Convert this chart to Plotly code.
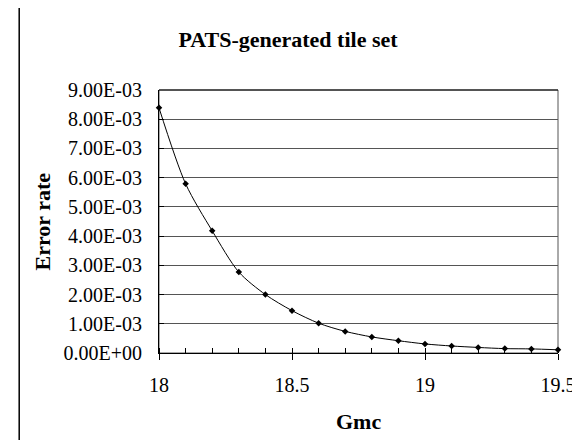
import plotly.graph_objects as go

# Data
gmc = [18.0, 18.1, 18.2, 18.3, 18.4, 18.5, 18.6, 18.7, 18.8, 18.9,
       19.0, 19.1, 19.2, 19.3, 19.4, 19.5]
error_rate = [8.39e-3, 5.79e-3, 4.18e-3, 2.77e-3, 2.00e-3, 1.45e-3, 1.02e-3, 0.74e-3,
              0.55e-3, 0.42e-3, 0.31e-3, 0.24e-3, 0.19e-3, 0.15e-3, 0.14e-3, 0.11e-3]

y_tick_vals = [0, 1e-3, 2e-3, 3e-3, 4e-3, 5e-3, 6e-3, 7e-3, 8e-3, 9e-3]
y_tick_text = ["0.00E+00", "1.00E-03", "2.00E-03", "3.00E-03", "4.00E-03",
               "5.00E-03", "6.00E-03", "7.00E-03", "8.00E-03", "9.00E-03"]
x_tick_vals = [18, 18.5, 19, 19.5]
x_tick_text = ["18", "18.5", "19", "19.5"]

FONT = "Liberation Serif, Times New Roman, serif"

W, H = 580, 440
L, R, T, B = 151, 18, 82, 95
pw, ph = W - L - R, H - T - B


def px_x(p):
    return (p - L) / pw


def px_y(p):
    return (H - B - p) / ph


fig = go.Figure()
fig.add_trace(go.Scatter(
    x=gmc, y=error_rate, mode="lines+markers",
    line=dict(color="black", width=1, shape="spline", smoothing=0.8),
    marker=dict(symbol="diamond", size=5, color="black"),
    showlegend=False, cliponaxis=False,
))

fig.update_layout(
    width=W, height=H,
    margin=dict(l=L, r=R, t=T, b=B),
    paper_bgcolor="white", plot_bgcolor="white",
    font=dict(family=FONT, color="black", size=20),
    title=dict(text="<b>PATS-generated tile set</b>", font=dict(size=22, family=FONT, color="black"),
               x=280 / W, xref="container", xanchor="center",
               y=1 - 31 / H, yref="container", yanchor="middle"),
)

fig.update_xaxes(
    range=[18, 19.5], tickvals=x_tick_vals, ticktext=x_tick_text,
    showline=True, linecolor="black", linewidth=1,
    ticks="outside", ticklen=6, tickcolor="black",
    minor=dict(dtick=0.1, ticks="inside", ticklen=5, tickcolor="black", showgrid=False),
    showgrid=False, zeroline=False, ticklabelstandoff=8,
    tickfont=dict(size=20, family=FONT),
)
fig.update_yaxes(
    range=[0, 0.009], tickvals=y_tick_vals, ticktext=y_tick_text,
    showline=True, linecolor="black", linewidth=1,
    ticks="inside", ticklen=5, tickcolor="black",
    showgrid=True, gridcolor="#555555", gridwidth=1, zeroline=False,
    ticklabelstandoff=12, tickfont=dict(size=20, family=FONT),
)

# plot area border (top/right)
fig.add_shape(type="rect", xref="paper", yref="paper", x0=0, x1=1, y0=0, y1=1,
              line=dict(color="#555555", width=1), layer="below")
fig.add_shape(type="line", xref="paper", yref="paper", x0=0, x1=1, y0=1, y1=1,
              line=dict(color="black", width=1))

# chart outer border (left and bottom visible)
fig.add_shape(type="rect", xref="paper", yref="paper",
              x0=px_x(7), x1=px_x(600), y0=px_y(438), y1=px_y(-20),
              line=dict(color="black", width=1.5))

# axis titles
fig.add_annotation(text="<b>Error rate</b>", xref="paper", yref="paper",
                   x=px_x(30), y=px_y(214), textangle=-90, showarrow=False,
                   font=dict(size=22, family=FONT, color="black"),
                   xanchor="center", yanchor="middle")
fig.add_annotation(text="<b>Gmc</b>", xref="paper", yref="paper",
                   x=px_x(357), y=px_y(413), showarrow=False,
                   font=dict(size=22, family=FONT, color="black"),
                   xanchor="center", yanchor="middle")

fig.write_html("out.html")
